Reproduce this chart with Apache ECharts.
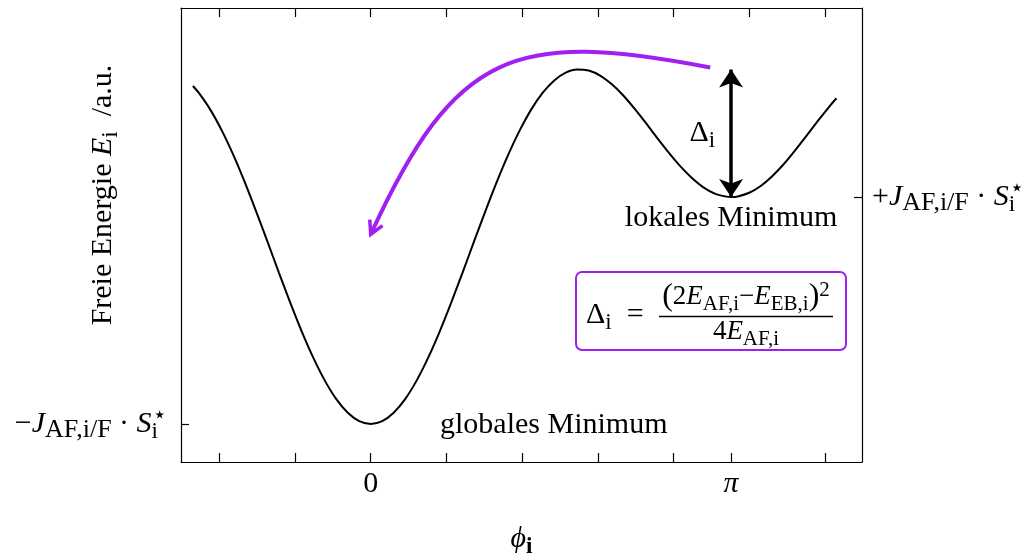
<!DOCTYPE html>
<html>
<head>
<meta charset="utf-8">
<script src="https://cdn.jsdelivr.net/npm/echarts@6/dist/echarts.min.js"></script>
<style>
  html, body { margin: 0; padding: 0; background: #fff; }
  #chart { width: 1034px; height: 554px; }
</style>
</head>
<body>
<div id="chart"></div>
<script>
// Free energy E_i(φ_i) of the interface spin, sampled along φ_i (rad), energy in units of J
const phi = [-1.55, -1.5, -1.4, -1.3, -1.2, -1.1, -1.0, -0.9, -0.8, -0.7, -0.6, -0.5, -0.4, -0.3, -0.2, -0.1,
             0, 0.1, 0.2, 0.3, 0.4, 0.5, 0.6, 0.7, 0.8, 0.9, 1.0, 1.1, 1.2, 1.3, 1.4, 1.5,
             1.6, 1.7, 1.8, 1.9, 2.0, 2.1, 2.2, 2.3, 2.4, 2.5, 2.6, 2.7, 2.8, 2.9, 3.0, 3.1, 3.1416, 3.2,
             3.3, 3.4, 3.5, 3.6, 3.7, 3.8, 3.9, 4.0, 4.06];
const energy = [1.978, 1.919, 1.772, 1.589, 1.375, 1.135, 0.876, 0.606, 0.332, 0.065, -0.188, -0.418, -0.618, -0.781, -0.901, -0.975,
                -1.0, -0.975, -0.901, -0.781, -0.618, -0.418, -0.188, 0.065, 0.332, 0.606, 0.876, 1.135, 1.375, 1.589, 1.772, 1.919,
                2.027, 2.096, 2.124, 2.114, 2.070, 1.995, 1.896, 1.778, 1.650, 1.517, 1.388, 1.269, 1.167, 1.085, 1.030, 1.003, 1.0, 1.005,
                1.037, 1.097, 1.183, 1.288, 1.410, 1.540, 1.672, 1.799, 1.870];

// Axis ticks
const topTicks = [-1.32, -0.66, 0, 0.66, 1.32, 1.98, 2.64, 3.30, 3.96];
const bottomTicks = [-1.32, -0.66, 0, 0.66, 1.32, 1.98, 2.64, Math.PI, 3.96];
const xTickLabels = [[0, '{r|0}'], [Math.PI, '{m|π}']];
const leftTicks = [-1];
const rightTicks = [1];
const leftTickLabel = '{r|−}{m|J}{t|AF,i/F}{r| · }{m|S}{s0|i}{p|⋆}';
const rightTickLabel = '{r|+}{m|J}{t|AF,i/F}{r| · }{m|S}{s0|i}{p|⋆}';

const xRange = [-1.654, 4.283];
const yRange = [-1.335, 2.665];

const FONT = '"Liberation Serif", "DejaVu Serif", serif';
const PURPLE = '#a020f0';
const MAIN = 30;

function richSet(size) {
  const sub = Math.round(size * 0.76);
  const lh = Math.round(size * 1.3);
  return {
    r:  { fontFamily: FONT, fontSize: size, lineHeight: lh, align: 'left', color: '#000' },
    m:  { fontFamily: FONT, fontSize: size, fontStyle: 'italic', lineHeight: lh, align: 'left', color: '#000' },
    b:  { fontFamily: FONT, fontSize: sub, fontWeight: 'bold', lineHeight: sub, verticalAlign: 'bottom', align: 'left', color: '#000' },
    s:  { fontFamily: FONT, fontSize: sub, lineHeight: sub, verticalAlign: 'bottom', align: 'left', color: '#000' },
    t:  { fontFamily: FONT, fontSize: Math.round(size * 0.86), lineHeight: sub, verticalAlign: 'bottom', align: 'left', color: '#000' },
    s0: { fontFamily: FONT, fontSize: sub, lineHeight: sub, verticalAlign: 'bottom', align: 'left', width: 1, color: '#000' },
    p:  { fontFamily: '"DejaVu Sans", sans-serif', fontSize: Math.round(size * 0.75), lineHeight: sub, verticalAlign: 'top', align: 'left', color: '#000' },
    q:  { fontFamily: FONT, fontSize: sub, lineHeight: sub, verticalAlign: 'top', align: 'left', color: '#000' },
    big:{ fontFamily: FONT, fontSize: Math.round(size * 1.2), lineHeight: lh, align: 'left', color: '#000' }
  };
}
const richMain = richSet(MAIN);
const richFrac = richSet(27);

const localMin = energy[phi.indexOf(3.1416)];
const peak = Math.max(...energy);

const chart = echarts.init(document.getElementById('chart'), null, { renderer: 'canvas' });

const frameLine = { show: true, onZero: false, lineStyle: { color: '#000', width: 1.2 } };
const tickStyle = { color: '#000', width: 1.2 };

chart.setOption({
  animation: false,
  backgroundColor: '#fff',
  grid: { left: 181, right: 172, top: 8, bottom: 92, containLabel: false, outerBoundsMode: 'none' },
  xAxis: [
    {
      type: 'value', position: 'bottom', min: xRange[0], max: xRange[1],
      axisLine: frameLine, splitLine: { show: false },
      axisTick: { show: true, inside: true, length: 9, lineStyle: tickStyle, customValues: bottomTicks },
      axisLabel: {
        show: true, margin: 3, rich: richMain,
        customValues: xTickLabels.map(d => d[0]),
        formatter: v => { const t = xTickLabels.find(d => Math.abs(d[0] - v) < 1e-6); return t ? t[1] : ''; }
      },
      name: '{m|ϕ}{b|i}', nameLocation: 'middle', nameGap: 58,
      nameTextStyle: { rich: richMain }
    },
    {
      type: 'value', position: 'top', min: xRange[0], max: xRange[1],
      axisLine: frameLine, splitLine: { show: false },
      axisTick: { show: true, inside: true, length: 9, lineStyle: tickStyle, customValues: topTicks },
      axisLabel: { show: false }
    }
  ],
  yAxis: [
    {
      type: 'value', position: 'left', min: yRange[0], max: yRange[1],
      axisLine: frameLine, splitLine: { show: false },
      axisTick: { show: true, inside: true, length: 8, lineStyle: tickStyle, customValues: leftTicks },
      axisLabel: { show: true, margin: 14, rich: richMain, customValues: leftTicks, formatter: () => leftTickLabel }
    },
    {
      type: 'value', position: 'right', min: yRange[0], max: yRange[1],
      axisLine: frameLine, splitLine: { show: false },
      axisTick: { show: true, inside: true, length: 8, lineStyle: tickStyle, customValues: rightTicks },
      axisLabel: { show: true, margin: 10, rich: richMain, customValues: rightTicks, formatter: () => rightTickLabel }
    }
  ],
  series: [
    {
      type: 'line', xAxisIndex: 0, yAxisIndex: 0,
      data: phi.map((p, i) => [p, energy[i]]),
      smooth: 0.3, symbol: 'none', silent: true,
      lineStyle: { color: '#000', width: 2 }
    },
    {
      // energy barrier Δ_i between the local minimum at π and the maximum
      type: 'lines', coordinateSystem: 'cartesian2d', xAxisIndex: 0, yAxisIndex: 0,
      data: [{ coords: [[Math.PI, localMin], [Math.PI, peak]] }],
      symbol: ['arrow', 'arrow'], symbolSize: 18, silent: true,
      lineStyle: { color: '#000', width: 3.5, opacity: 1 }
    }
  ]
});

// Annotations
const px = p => chart.convertToPixel({ gridIndex: 0 }, p);

// curved transition arrow from the local to the global minimum (data space)
const arc = { start: [2.96, 2.14], c1: [1.26, 2.47], c2: [0.74, 2.30], end: [0.0, 0.67] };
const a0 = px(arc.start), a1 = px(arc.c1), a2 = px(arc.c2), a3 = px(arc.end);
const dx = a3[0] - a2[0], dy = a3[1] - a2[1];
const len = Math.hypot(dx, dy);
const ux = dx / len, uy = dy / len, nx = -uy, ny = ux;
const headLen = 13, headW = 7;
const head = [
  [a3[0] - ux * headLen + nx * headW, a3[1] - uy * headLen + ny * headW],
  [a3[0], a3[1]],
  [a3[0] - ux * headLen - nx * headW, a3[1] - uy * headLen - ny * headW]
];

const barrierTop = px([Math.PI, peak]);
const barrierBot = px([Math.PI, localMin]);
const globalMin = px([0, -1]);

function txt(x, y, text, rich, align, extra) {
  return Object.assign({
    type: 'text', x: x, y: y, silent: true,
    style: {
      text: text, rich: rich, fill: '#000',
      fontFamily: FONT, fontSize: MAIN,
      align: align || 'center', verticalAlign: 'middle',
      textAlign: align || 'center', textVerticalAlign: 'middle'
    }
  }, extra || {});
}

chart.setOption({
  graphic: [
    { type: 'bezierCurve', silent: true,
      shape: { x1: a0[0], y1: a0[1], cpx1: a1[0], cpy1: a1[1], cpx2: a2[0], cpy2: a2[1], x2: a3[0], y2: a3[1] },
      style: { stroke: PURPLE, lineWidth: 4, fill: null } },
    { type: 'polyline', silent: true, shape: { points: head },
      style: { stroke: PURPLE, lineWidth: 3.5, fill: null, lineJoin: 'miter' } },

    // y axis title
    txt(103, 195, '{r|Freie Energie }{m|E}{s|i}{r|  /a.u.}', richMain, 'center', { rotation: Math.PI / 2 }),

    // minima
    txt(barrierBot[0], barrierBot[1] + 21, '{r|lokales Minimum}', richMain, 'center'),
    txt(globalMin[0] + 183, globalMin[1] + 1, '{r|globales Minimum}', richMain, 'center'),

    // Δ_i next to the barrier arrow
    txt(barrierTop[0] - 16, (barrierTop[1] + barrierBot[1]) / 2, '{r|Δ}{s|i}', richMain, 'right'),

    // formula box
    { type: 'rect', silent: true, shape: { x: 576, y: 272, width: 270, height: 78, r: 6 },
      style: { stroke: PURPLE, lineWidth: 2, fill: null } },
    txt(586, 315, '{r|Δ}{s|i}{r|  =}', richMain, 'left'),
    txt(746, 297, '{big|(}{r|2}{m|E}{s|AF,i}{r|−}{m|E}{s|EB,i}{big|)}{q|2}', richFrac, 'center'),
    { type: 'line', silent: true, shape: { x1: 659, y1: 316.5, x2: 833, y2: 316.5 },
      style: { stroke: '#000', lineWidth: 1.3 } },
    txt(746, 332, '{r|4}{m|E}{s|AF,i}', richFrac, 'center')
  ]
});
</script>
</body>
</html>
